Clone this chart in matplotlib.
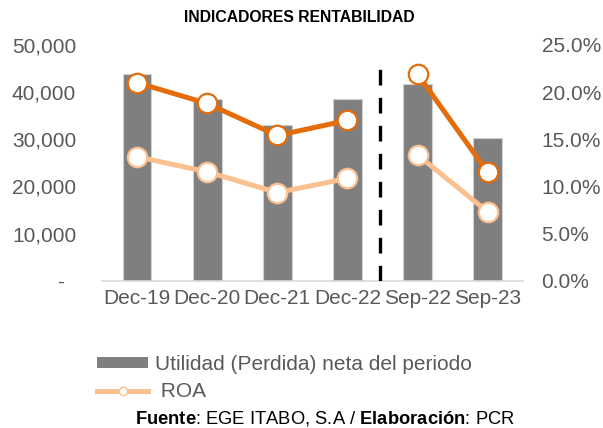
import matplotlib
matplotlib.use("Agg")
import matplotlib.pyplot as plt
from matplotlib.lines import Line2D
from matplotlib.patches import Patch

plt.rcParams['font.family'] = ['Liberation Sans', 'DejaVu Sans']
plt.rcParams['mathtext.fontset'] = 'custom'
plt.rcParams['mathtext.rm'] = 'Liberation Sans'
plt.rcParams['mathtext.bf'] = 'Liberation Sans:bold'

categories = ["Dec-19", "Dec-20", "Dec-21", "Dec-22", "Sep-22", "Sep-23"]
utilidad = [43900, 38550, 33100, 38550, 41650, 30350]
roe = [21.0, 18.8, 15.4, 17.0, 21.9, 11.5]
roa = [13.15, 11.55, 9.35, 10.85, 13.35, 7.3]
left_ticks = [0, 10000, 20000, 30000, 40000, 50000]
left_labels = ["-  ", "10,000", "20,000", "30,000", "40,000", "50,000"]
right_ticks = [0, 5, 10, 15, 20, 25]
right_labels = ["0.0%", "5.0%", "10.0%", "15.0%", "20.0%", "25.0%"]
divider_pos = 3.47
divider_top = 47500

txt = '#595959'
fs = 15
fig = plt.figure(figsize=(6.03, 4.28), dpi=100)
ax = fig.add_axes([0.169, 0.344, 0.698, 0.551])
x = list(range(len(categories)))
ax.bar(x, utilidad, width=0.41, color='#7f7f7f', edgecolor='#d0d0d0', linewidth=0.8, zorder=2)
ax.set_xlim(-0.5, 5.5)
ax.set_ylim(0, 50000)
ax.set_yticks(left_ticks)
ax.set_yticklabels(left_labels)
ax.set_xticks(x)
ax.set_xticklabels(categories)
ax.plot([divider_pos, divider_pos], [0, divider_top], color='black', lw=2.4,
        dashes=(4.7, 3.7), zorder=3)
for s in ['top', 'right', 'left']:
    ax.spines[s].set_visible(False)
ax.spines['bottom'].set_color('#d9d9d9')
ax.spines['bottom'].set_linewidth(1.2)
ax.tick_params(axis='y', length=0, labelsize=fs, colors=txt, pad=18.5)
ax.tick_params(axis='x', length=0, labelsize=fs, colors=txt, pad=6)

ax2 = ax.twinx()
ax2.set_ylim(0, 25)
ax2.set_yticks(right_ticks)
ax2.set_yticklabels(right_labels)
for s in ax2.spines.values():
    s.set_visible(False)
ax2.tick_params(length=0, labelsize=fs, colors=txt, pad=13.5)

dark = '#E46C0A'
light = '#FAC090'
for seg in (slice(0, 4), slice(4, 6)):
    ax2.plot(x[seg], roe[seg], color=dark, lw=3.6, marker='o', ms=14,
             mfc='white', mec=dark, mew=1.6, zorder=4)
    ax2.plot(x[seg], roa[seg], color=light, lw=3.6, marker='o', ms=14,
             mfc='white', mec=light, mew=1.6, zorder=4)

fig.text(0.497, 0.958, "INDICADORES RENTABILIDAD", ha='center', va='center',
         fontsize=11.3, fontweight='bold', color='black')

handles = [Patch(facecolor='#7f7f7f', edgecolor='none'),
           Line2D([], [], color=light, lw=3.6, marker='o', ms=6, mfc='white', mec=light)]
leg = fig.legend(handles, ["Utilidad (Perdida) neta del periodo", " ROA"],
                 loc='upper left', bbox_to_anchor=(0.161, 0.170), frameon=False,
                 fontsize=fs, handlelength=2.45, handleheight=0.45,
                 handletextpad=0.33, labelspacing=0.39, borderaxespad=0,
                 borderpad=0)
for t in leg.get_texts():
    t.set_color(txt)

fig.text(0.539, 0.023, r"$\bf{Fuente}$: EGE ITABO, S.A / $\bf{Elaboración}$: PCR",
         ha='center', va='center', fontsize=13.2, color='black')

fig.savefig("out.png", dpi=100)
